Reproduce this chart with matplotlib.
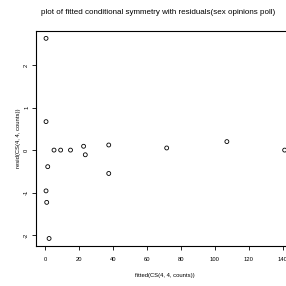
import matplotlib
matplotlib.use('Agg')
import matplotlib.pyplot as plt

# fitted values and residuals (16 cells of the 4x4 table)
fitted = [0.6, 0.6, 0.6, 1.0, 1.6, 2.4, 5.3, 9.2, 15.0, 22.7, 23.7, 37.5, 37.5, 71.6, 107.0, 141.0]
resid = [2.63, 0.67, -0.96, -1.23, -0.39, -2.08, 0.0, 0.0, 0.0, 0.09, -0.11, 0.12, -0.55, 0.05, 0.2, 0.0]

xticks = [0, 20, 40, 60, 80, 100, 120, 140]
yticks = [-2, -1, 0, 1, 2]

plt.rcParams['font.family'] = ['Liberation Sans', 'DejaVu Sans']

fig = plt.figure(figsize=(2.86, 2.86), dpi=100)
ax = fig.add_axes([36 / 286, 1 - 245.7 / 286, 258 / 286, 215 / 286])
ax.scatter(fitted, resid, s=8, facecolors='none', edgecolors='black', linewidths=0.6)

ax.set_xlim(-5.3, 146.5)
ax.set_ylim(-2.25, 2.81)
ax.set_xticks(xticks)
ax.set_yticks(yticks)
ax.set_xticklabels([str(v) for v in xticks], fontsize=4.2)
ax.set_yticklabels([str(v) for v in yticks], fontsize=4.2, rotation=90, va='center')
ax.tick_params(direction='out', length=3, width=0.6)
ax.tick_params(axis='x', pad=5)
ax.tick_params(axis='y', pad=2)
for sp in ax.spines.values():
    sp.set_linewidth(0.8)

ax.set_xlabel('fitted(CS(4, 4, counts))', fontsize=4.2, labelpad=8)
ax.set_ylabel('resid(CS(4, 4, counts))', fontsize=4.2, labelpad=2)
fig.text(158 / 286, 1 - 13 / 286, 'plot of fitted conditional symmetry with residuals(sex opinions poll)',
         ha='center', va='center', fontsize=5.8)

fig.savefig('out.png', dpi=100)
